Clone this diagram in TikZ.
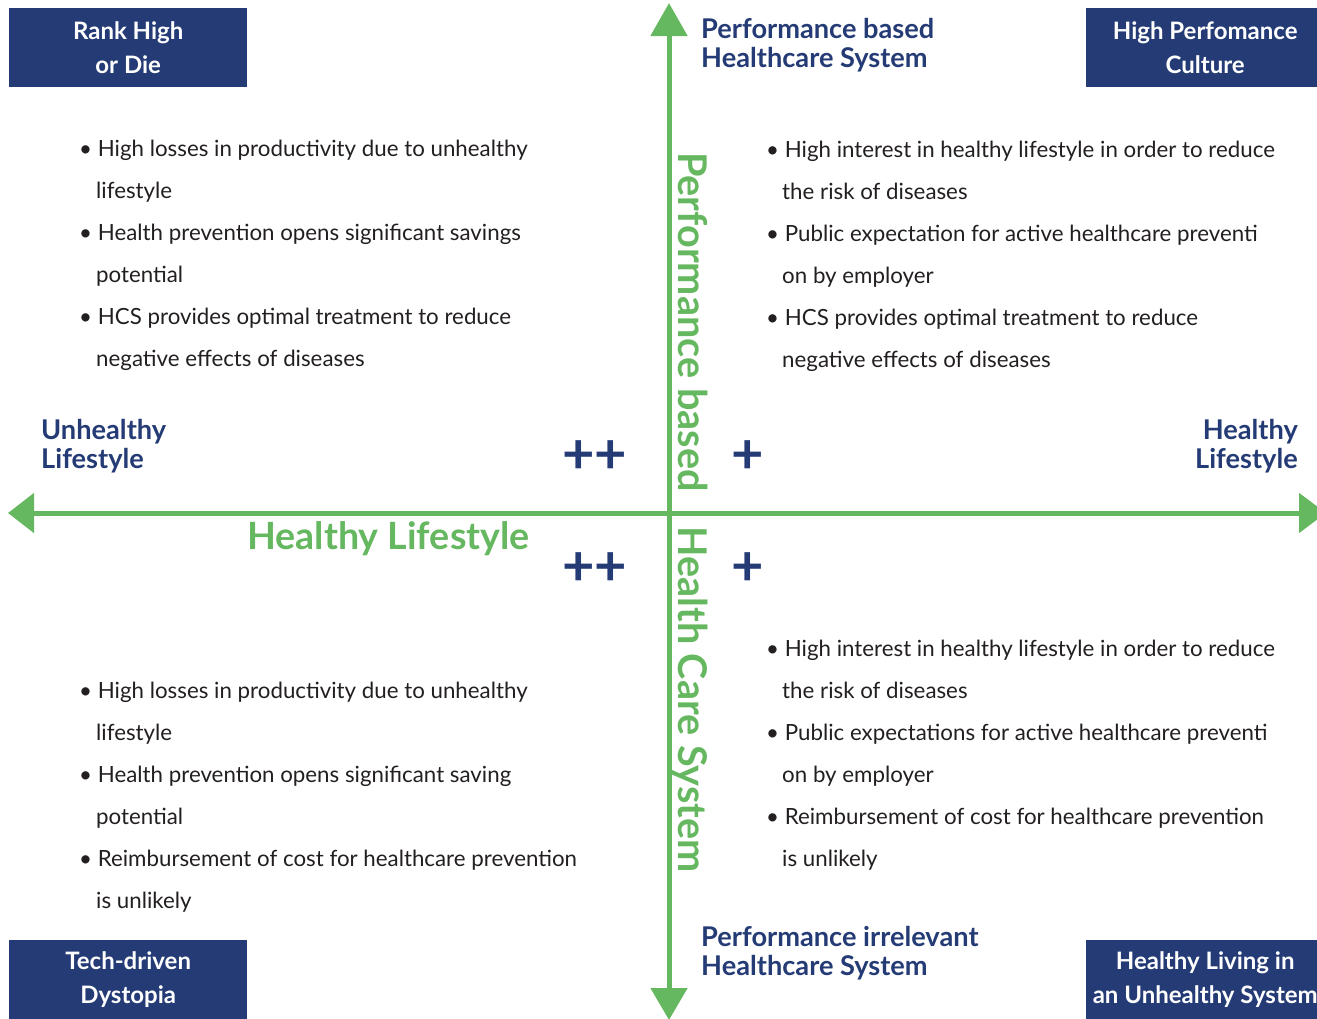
\documentclass[tikz,border=0pt]{standalone}
\usepackage{fontspec}
\setmainfont{Lato}
\usetikzlibrary{arrows.meta}
\definecolor{navy}{HTML}{243B75}
\definecolor{grn}{HTML}{66B860}
\definecolor{ink}{HTML}{231F20}
\begin{document}
\begin{tikzpicture}[x=1pt,y=-1pt,
  corner/.style={fill=navy,text=white,minimum width=238pt,minimum height=79pt,inner sep=0pt,align=center,
    font=\fontsize{24}{34}\selectfont\bfseries,anchor=north west},
  axlbl/.style={text=navy,font=\fontsize{27.2}{29}\selectfont\bfseries,inner sep=0pt},
  bul/.style={text=ink,font=\fontsize{22.3}{26}\selectfont,anchor=base west,inner sep=0pt},
  big/.style={text=grn,font=\fontsize{37.6}{40}\selectfont\bfseries,inner sep=0pt},
  bigv/.style={text=grn,font=\fontsize{39.6}{40}\selectfont\bfseries,inner sep=0pt},
  plussign/.style={text=navy,font=\fontsize{56}{56}\selectfont\bfseries,inner sep=0pt},
  axis/.style={draw=grn,fill=grn,line width=5pt}]
\useasboundingbox (0,0) rectangle (1317,1018);

% axes
\coordinate (L) at (8,513);
\coordinate (R) at (1326,513);
\coordinate (T) at (669,3);
\coordinate (B) at (669,1020);
\draw[axis,{Triangle[length=26pt,width=39pt]}-{Triangle[length=27pt,width=39pt]}] (L) -- (R);
\draw[axis,{Triangle[length=33pt,width=36pt]}-{Triangle[length=32pt,width=36pt]}] (T) -- (B);

% corner boxes
\node[corner] (ctl) at (9,8) {Rank High\\or Die};
\node[corner] (ctr) at (1086,8) {High Perfomance\\Culture};
\node[corner] (cbl) at (9,940) {Tech-driven\\Dystopia};
\node[corner] (cbr) at (1086,940) {Healthy Living in\\an Unhealthy System};

% axis end labels
\node[axlbl,anchor=base west] (pb1) at (701,38) {Performance based};
\node[axlbl,anchor=base west] (pb2) at (701,67) {Healthcare System};
\node[axlbl,anchor=base west] (pi1) at (701,946) {Performance irrelevant};
\node[axlbl,anchor=base west] (pi2) at (701,975) {Healthcare System};
\node[axlbl,anchor=base west] (ul1) at (41,439) {Unhealthy};
\node[axlbl,anchor=base west] (ul2) at (41,468) {Lifestyle};
\node[axlbl,anchor=base east] (hl1) at (1298,439) {Healthy};
\node[axlbl,anchor=base east] (hl2) at (1298,468) {Lifestyle};

% big green axis titles
\node[big,anchor=base west] (hx) at (247,549) {Healthy Lifestyle};
\node[bigv,anchor=base west,rotate=-90] (vy1) at (678,152) {Performance based};
\node[bigv,anchor=base west,rotate=-90] (vy2) at (678,526) {Health Care System};

% plus signs
\node[plussign] (p1) at (594.5,457) {++};
\node[plussign] (p2) at (748,457) {+};
\node[plussign] (p3) at (594.5,569) {++};
\node[plussign] (p4) at (748,569) {+};

% top-left list
\node[bul] (a1) at (79,156) {\textbullet\ High losses in productivity due to unhealthy};
\node[bul] (a2) at (96,198) {lifestyle};
\node[bul] (a3) at (79,240) {\textbullet\ Health prevention opens significant savings};
\node[bul] (a4) at (96,282) {potential};
\node[bul] (a5) at (79,324) {\textbullet\ HCS provides optimal treatment to reduce};
\node[bul] (a6) at (96,366) {negative effects of diseases};

% top-right list
\node[bul] (b1) at (766,157) {\textbullet\ High interest in healthy lifestyle in order to reduce};
\node[bul] (b2) at (782,199) {the risk of diseases};
\node[bul] (b3) at (766,241) {\textbullet\ Public expectation for active healthcare preventi};
\node[bul] (b4) at (782,283) {on by employer};
\node[bul] (b5) at (766,325) {\textbullet\ HCS provides optimal treatment to reduce};
\node[bul] (b6) at (782,367) {negative effects of diseases};

% bottom-left list
\node[bul] (c1) at (79,698) {\textbullet\ High losses in productivity due to unhealthy};
\node[bul] (c2) at (96,740) {lifestyle};
\node[bul] (c3) at (79,782) {\textbullet\ Health prevention opens significant saving};
\node[bul] (c4) at (96,824) {potential};
\node[bul] (c5) at (79,866) {\textbullet\ Reimbursement of cost for healthcare prevention};
\node[bul] (c6) at (96,908) {is unlikely};

% bottom-right list
\node[bul] (d1) at (766,656) {\textbullet\ High interest in healthy lifestyle in order to reduce};
\node[bul] (d2) at (782,698) {the risk of diseases};
\node[bul] (d3) at (766,740) {\textbullet\ Public expectations for active healthcare preventi};
\node[bul] (d4) at (782,782) {on by employer};
\node[bul] (d5) at (766,824) {\textbullet\ Reimbursement of cost for healthcare prevention};
\node[bul] (d6) at (782,866) {is unlikely};
\end{tikzpicture}
\end{document}
